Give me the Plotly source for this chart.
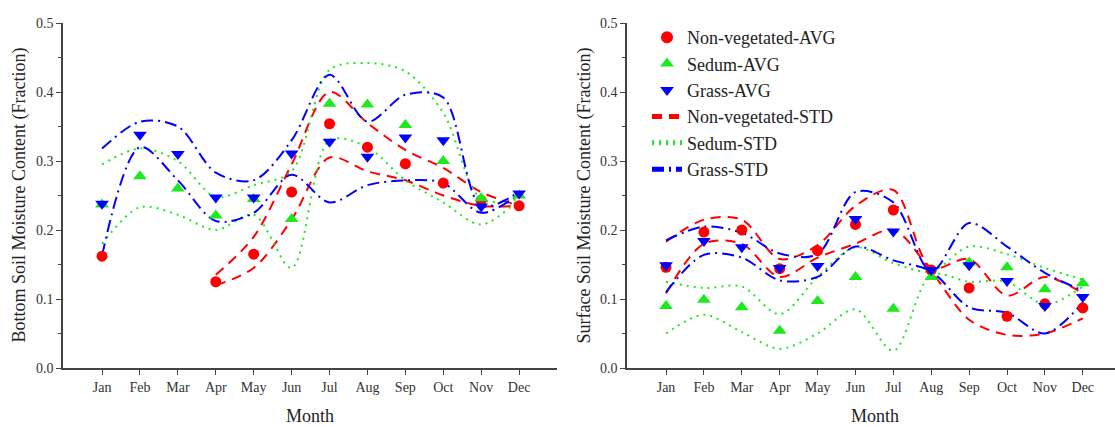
import plotly.graph_objects as go

months = ["Jan", "Feb", "Mar", "Apr", "May", "Jun", "Jul", "Aug", "Sep", "Oct", "Nov", "Dec"]

# Bottom soil moisture (left panel)
bottom_nonveg_avg = [0.162, None, None, 0.125, 0.165, 0.255, 0.354, 0.320, 0.296, 0.268, 0.243, 0.235]
bottom_sedum_avg = [0.237, 0.278, 0.260, 0.221, 0.245, 0.216, 0.383, 0.382, 0.352, 0.300, 0.246, 0.250]
bottom_grass_avg = [0.238, 0.338, 0.310, 0.247, 0.247, 0.311, 0.328, 0.306, 0.334, 0.330, 0.234, 0.253]
bottom_nonveg_std_hi = [None, None, None, 0.135, 0.190, 0.295, 0.400, 0.355, 0.316, 0.290, 0.255, 0.235]
bottom_nonveg_std_lo = [None, None, None, 0.120, 0.145, 0.215, 0.305, 0.285, 0.272, 0.250, 0.235, 0.235]
bottom_sedum_std_hi = [0.295, 0.318, 0.300, 0.248, 0.265, 0.285, 0.432, 0.442, 0.430, 0.370, 0.245, 0.245]
bottom_sedum_std_lo = [0.180, 0.233, 0.222, 0.200, 0.222, 0.145, 0.330, 0.320, 0.272, 0.240, 0.208, 0.245]
bottom_grass_std_hi = [0.318, 0.357, 0.350, 0.283, 0.272, 0.330, 0.425, 0.357, 0.396, 0.392, 0.235, 0.255]
bottom_grass_std_lo = [0.163, 0.320, 0.272, 0.213, 0.225, 0.280, 0.240, 0.265, 0.272, 0.268, 0.225, 0.252]

# Surface soil moisture (right panel)
surface_nonveg_avg = [0.146, 0.197, 0.200, 0.144, 0.170, 0.208, 0.229, 0.142, 0.116, 0.075, 0.093, 0.087]
surface_sedum_avg = [0.090, 0.099, 0.088, 0.054, 0.097, 0.132, 0.086, 0.132, 0.153, 0.146, 0.114, 0.123]
surface_grass_avg = [0.149, 0.184, 0.175, 0.145, 0.148, 0.216, 0.198, 0.142, 0.149, 0.126, 0.090, 0.103]
surface_nonveg_std_hi = [0.183, 0.215, 0.215, 0.158, 0.178, 0.235, 0.258, 0.145, 0.158, 0.105, 0.132, 0.108]
surface_nonveg_std_lo = [0.108, 0.180, 0.180, 0.132, 0.160, 0.180, 0.200, 0.140, 0.070, 0.048, 0.050, 0.072]
surface_sedum_std_hi = [0.125, 0.116, 0.118, 0.078, 0.132, 0.175, 0.152, 0.140, 0.176, 0.165, 0.145, 0.128]
surface_sedum_std_lo = [0.050, 0.077, 0.052, 0.028, 0.050, 0.085, 0.025, 0.135, 0.125, 0.125, 0.092, 0.118]
surface_grass_std_hi = [0.185, 0.205, 0.196, 0.166, 0.165, 0.255, 0.240, 0.140, 0.210, 0.176, 0.138, 0.112]
surface_grass_std_lo = [0.110, 0.164, 0.160, 0.127, 0.132, 0.176, 0.156, 0.140, 0.088, 0.080, 0.050, 0.095]

series_names = ["Non-vegetated-AVG", "Sedum-AVG", "Grass-AVG", "Non-vegetated-STD", "Sedum-STD", "Grass-STD"]

RED, GREEN, BLUE = "#ff0000", "#1ee81e", "#0000ff"
FONT = "Liberation Serif"
W, H = 1115, 427
ML, MR, MT, MB = 63, 0, 23, 59
PW = W - ML - MR
PH = H - MT - MB

fig = go.Figure()

std_styles = [
    (RED, "10px,7px"),
    (GREEN, "2px,5px"),
    (BLUE, "12px,5px,2px,5px"),
]
avg_styles = [
    (RED, "circle", 11),
    (GREEN, "triangle-up", 12),
    (BLUE, "triangle-down", 12),
]

panels = [
    ("x", "y", [
        (bottom_nonveg_std_hi, bottom_nonveg_std_lo),
        (bottom_sedum_std_hi, bottom_sedum_std_lo),
        (bottom_grass_std_hi, bottom_grass_std_lo),
    ], [bottom_nonveg_avg, bottom_sedum_avg, bottom_grass_avg], False),
    ("x2", "y2", [
        (surface_nonveg_std_hi, surface_nonveg_std_lo),
        (surface_sedum_std_hi, surface_sedum_std_lo),
        (surface_grass_std_hi, surface_grass_std_lo),
    ], [surface_nonveg_avg, surface_sedum_avg, surface_grass_avg], True),
]

for xa, ya, stds, avgs, legend in panels:
    for i, (hi, lo) in enumerate(stds):
        color, dash = std_styles[i]
        for j, vals in enumerate((hi, lo)):
            fig.add_trace(go.Scatter(
                x=months, y=vals, xaxis=xa, yaxis=ya, mode="lines",
                line=dict(color=color, width=2, dash=dash, shape="spline", smoothing=0.9),
                name=series_names[3 + i], legendgroup=series_names[3 + i],
                showlegend=(legend and j == 0), legendrank=4 + i,
                hoverinfo="skip",
            ))
    for i, vals in enumerate(avgs):
        color, sym, size = avg_styles[i]
        fig.add_trace(go.Scatter(
            x=months, y=vals, xaxis=xa, yaxis=ya, mode="markers",
            marker=dict(color=color, symbol=sym, size=size, line=dict(width=0)),
            name=series_names[i], legendgroup=series_names[i],
            showlegend=legend, legendrank=1 + i,
        ))

def px_to_paper_x(px):
    return (px - ML) / PW

def px_to_paper_y(py):
    return (H - MB - py) / PH

axis_common = dict(
    showline=True, linecolor="#444", linewidth=1.5, mirror=False, automargin=False,
    showgrid=False, zeroline=False, ticks="outside", ticklen=5, tickwidth=1.2,
    tickcolor="#444", tickfont=dict(family=FONT, size=14, color="#333"),
)
yminor = dict(dtick=0.05, ticks="outside", ticklen=3, tickcolor="#444")

fig.update_layout(
    width=W, height=H,
    margin=dict(l=ML, r=MR, t=MT, b=MB, autoexpand=False),
    paper_bgcolor="white", plot_bgcolor="white",
    font=dict(family=FONT, color="#222"),
    xaxis=dict(domain=[0, px_to_paper_x(557)], range=[-1.03, 12.0], type="category",
               anchor="y", **axis_common),
    yaxis=dict(domain=[0, 1], range=[0, 0.5], anchor="x", tickvals=[0, 0.1, 0.2, 0.3, 0.4, 0.5],
               tickformat=".1f", minor=yminor, **axis_common),
    xaxis2=dict(domain=[px_to_paper_x(627), 1], range=[-1.03, 11.85], type="category",
                anchor="y2", **axis_common),
    yaxis2=dict(domain=[0, 1], range=[0, 0.5], anchor="x2", tickvals=[0, 0.1, 0.2, 0.3, 0.4, 0.5],
                tickformat=".1f", minor=yminor, **axis_common),
    legend=dict(x=px_to_paper_x(647), y=px_to_paper_y(19), xanchor="left", yanchor="top",
                bgcolor="rgba(0,0,0,0)", font=dict(family=FONT, size=18, color="#222"),
                itemsizing="constant", traceorder="normal", tracegroupgap=0),
    showlegend=True,
)

annos = [
    dict(text="Bottom Soil Moisture Content (Fraction)", x=px_to_paper_x(19), y=0.5, textangle=-90),
    dict(text="Surface Soil Moisture Content (Fraction)", x=px_to_paper_x(584), y=0.5, textangle=-90),
    dict(text="Month", x=px_to_paper_x(310), y=px_to_paper_y(416), textangle=0),
    dict(text="Month", x=px_to_paper_x(875), y=px_to_paper_y(416), textangle=0),
]
for a in annos:
    fig.add_annotation(xref="paper", yref="paper", showarrow=False, xanchor="center", yanchor="middle",
                       font=dict(family=FONT, size=18, color="#222"), **a)

fig.write_html("out.html", config={"displayModeBar": False},
               post_script="document.body.style.margin='0px';")
